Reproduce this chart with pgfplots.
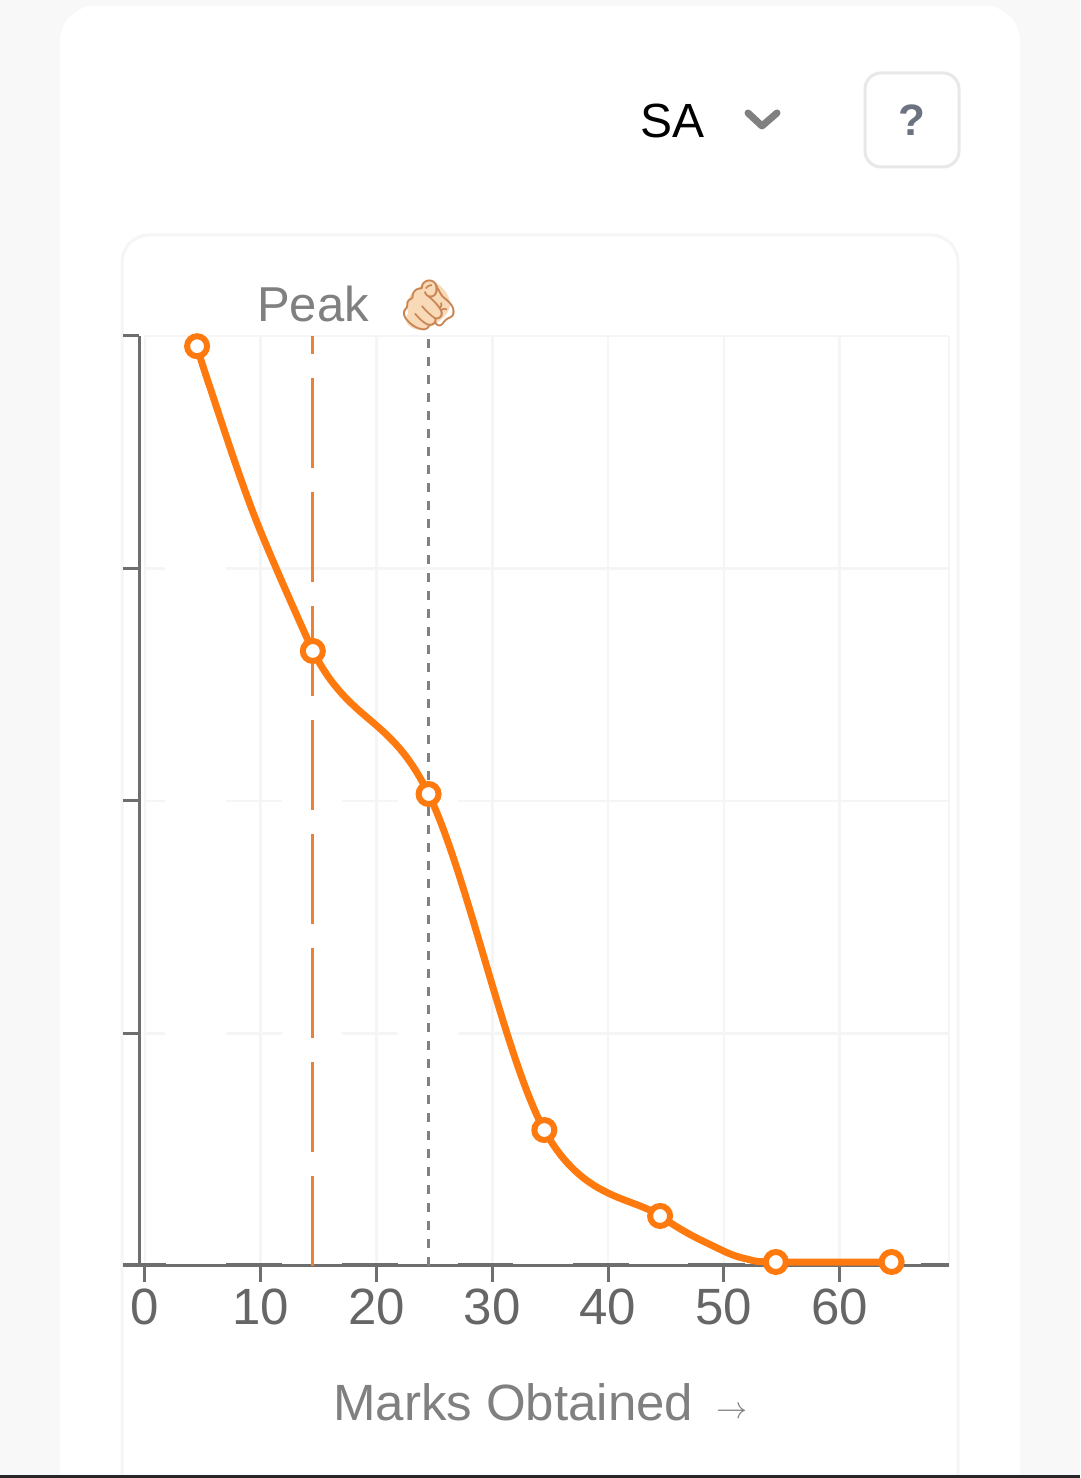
\documentclass[border=0pt]{standalone}
\usepackage{fontspec}
\setmainfont{Liberation Sans}
\newfontfamily\emojifont{Noto Emoji}
\usepackage{pgfplots}
\pgfplotsset{compat=1.18}
\definecolor{pagebg}{HTML}{F8F8F8}
\definecolor{cardline}{HTML}{F5F5F5}
\definecolor{gridc}{HTML}{F5F5F5}
\definecolor{axisc}{HTML}{6E6E6E}
\definecolor{labelc}{HTML}{808080}
\definecolor{tickc}{HTML}{666666}
\definecolor{curve}{HTML}{FF7A0E}
\definecolor{peak}{HTML}{EA8135}
\definecolor{helpc}{HTML}{6B7280}
\definecolor{helpb}{HTML}{E8E8E8}
\definecolor{skin}{HTML}{F8D9B8}
\definecolor{skind}{HTML}{C98552}
\begin{document}
\begin{tikzpicture}[x=1pt,y=1pt]
\clip (0,0) rectangle (1080,1478);
\fill[pagebg] (0,0) rectangle (1080,1478);
% white card
\fill[white,rounded corners=35pt] (60,-60) rectangle (1020,1472);
% inner card
\draw[cardline,line width=3pt,rounded corners=27pt] (122,-60) -- (122,1243) -- (958,1243) -- (958,-60);
% header
\node[anchor=base west,inner sep=0pt,font=\fontsize{48}{48}\selectfont,text=black] at (640,1340) {SA};
\draw[labelc,line width=7pt,line cap=round,line join=round] (748,1365) -- (762,1352) -- (777,1365);
\draw[helpb,line width=3pt,rounded corners=16pt] (865,1405) rectangle (959,1311);
\node[anchor=center,inner sep=0pt,font=\fontsize{44}{44}\selectfont\bfseries,text=helpc] at (912,1358) {?};
% peak
\node[anchor=base west,inner sep=0pt,font=\fontsize{49}{49}\selectfont,text=labelc] at (257,1156) {Peak};
\fill[skin] (408,1165) .. controls (402,1155) and (412,1146) .. (424,1149) .. controls (438,1152) and (453,1168) .. (450,1176) .. controls (448,1186) and (440,1194) .. (432,1197) .. controls (425,1199) and (420,1192) .. (418,1188) .. controls (410,1186) and (405,1176) .. (408,1165) -- cycle;
\node[anchor=center,inner sep=0pt,font=\fontsize{50}{50}\emojifont\selectfont,text=skind] at (429,1173) {🫵};
% x title
\node[anchor=base west,inner sep=0pt,font=\fontsize{51}{51}\selectfont,text=labelc] at (333,57) {Marks Obtained};
\node[anchor=center,inner sep=0pt,scale=3.1,text=labelc] at (731.5,65) {$\rightarrow$};
\begin{axis}[
  at={(139pt,212pt)},anchor=south west,
  scale only axis,width=810pt,height=930pt,
  xmin=-0.518,xmax=69.46,ymin=0,ymax=100,
  clip=false,
  axis x line*=bottom,axis y line*=left,
  axis line style={draw=axisc,line width=3pt,-},
  xtick={0,10,20,30,40,50,60},
  ytick={0,25,50,75,100},yticklabels={},
  tick align=outside,major tick length=16pt,
  tick style={draw=axisc,line width=3pt},
  xmajorgrids,
  major grid style={draw=gridc,line width=2.5pt},
  /pgf/number format/assume math mode=true,
  xticklabel style={font=\fontsize{51}{51}\selectfont,text=tickc,inner sep=0pt,anchor=north,yshift=-7pt},
  unbounded coords=jump,
]
% horizontal grid segments (broken as in the original)
\addplot[forget plot,draw=gridc,line width=2.5pt] coordinates {
 (0,100)(69.46,100)(69.46,nan)
 (0,75)(1.73,75)(1.73,nan)(7,75)(69.46,75)(69.46,nan)
 (0,50)(1.73,50)(1.73,nan)(7,50)(11.84,50)(11.84,nan)(17,50)(21.86,50)(21.86,nan)(27,50)(69.46,50)(69.46,nan)
 (0,25)(1.73,25)(1.73,nan)(7,25)(11.84,25)(11.84,nan)(17,25)(21.86,25)(21.86,nan)(27,25)(69.46,25)
};
\addplot[forget plot,draw=gridc,line width=2.5pt] coordinates {(69.46,0)(69.46,100)};
% axis extension and darker stretches on the baseline
\addplot[forget plot,draw=axisc,line width=2.5pt] coordinates {(-1.9,0)(69.46,0)};
\addplot[forget plot,draw=axisc,line width=3.5pt] coordinates {
 (-1.9,0.1)(1.8,0.1)(1.8,nan)(7,0.1)(11.84,0.1)(11.84,nan)(17,0.1)(21.86,0.1)(21.86,nan)(27,0.1)(31.8,0.1)(31.8,nan)
 (37,0.1)(41.8,0.1)(41.8,nan)(46.95,0.1)(51.8,0.1)(51.8,nan)(56.9,0.1)(61.7,0.1)(61.7,nan)(67,0.1)(69.46,0.1)
};
% curve, first stretch
\addplot[forget plot,smooth,tension=0.6,draw=curve,line width=7pt,no marks] coordinates {
 (4.5,98.9)(5.5,94.9)(9.5,80.5)(14.5,66.13)
};
% curve, the rest: the first segment only sets the tangent at 14.5 and stays undrawn
\addplot[forget plot,smooth,tension=0.6,draw=curve,line width=7pt,no marks,dash pattern=on 0pt off 327pt on 3000pt] coordinates {
 (4.5,98.9)(14.5,66.13)(24.5,50.75)(34.5,14.62)(44.5,5.38)(49.5,1.9)(52,0.75)(54.5,0.43)(64.5,0.43)
};
% markers
\addplot[forget plot,only marks,mark=*,mark size=10pt,mark options={draw=curve,fill=white,line width=6pt}] coordinates {
 (4.5,98.9)(14.5,66.13)(24.5,50.75)(34.5,14.62)(44.5,5.38)(54.5,0.43)(64.5,0.43)
};
% reference lines
\addplot[forget plot,draw=peak,line width=3pt,dash pattern=on 90pt off 24pt] coordinates {(14.47,0)(14.47,100)};
\addplot[forget plot,draw=labelc,line width=3pt,dash pattern=on 9pt off 9pt] coordinates {(24.5,0)(24.5,100)};
\end{axis}
% bottom edge of the screenshot
\fill[black!85] (0,0) rectangle (1080,3);
\end{tikzpicture}
\end{document}
